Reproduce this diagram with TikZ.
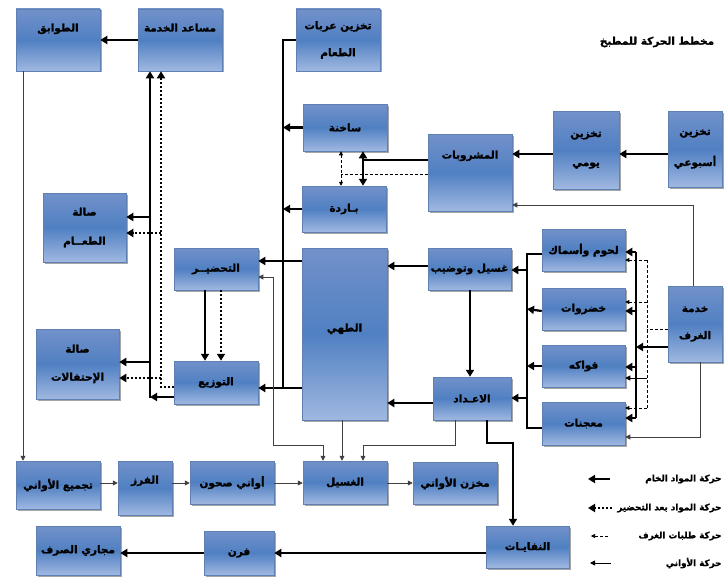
\documentclass[tikz,border=0pt]{standalone}
\usepackage{fontspec}
\usetikzlibrary{arrows.meta,shadows}
\newfontfamily\arabicfont[Script=Arabic, BoldFeatures={FakeBold=1.5}]{DejaVu Sans}
\TeXXeTstate=1
\newcommand{\rtltext}[1]{\beginR#1\endR}
\definecolor{boxtop}{HTML}{7291CA}
\definecolor{boxmid}{HTML}{5080C2}
\definecolor{boxbot}{HTML}{A0B8E1}
\definecolor{boxline}{HTML}{5F80B2}
\begin{document}
\begin{tikzpicture}[x=1pt, y=-1pt,
    font=\arabicfont\bfseries\fontsize{10.5}{12}\selectfont,
    box/.style={draw=boxline, line width=0.5pt, top color=boxtop, bottom color=boxbot, middle color=boxmid,
        drop shadow={shadow xshift=1.5pt, shadow yshift=-1.5pt, fill=black, opacity=0.35},
        align=center, inner sep=2pt},
    boxtop/.style={box, text height=8pt, text depth=#1},
    thickline/.style={line width=2.2pt},
    raw/.style={thickline, >={Triangle[length=7pt,width=8pt]}, ->},
    prep/.style={raw, dash pattern=on 2.2pt off 1.8pt},
    order/.style={line width=0.6pt, dash pattern=on 3pt off 2pt, >={Triangle[length=4pt,width=4pt]}, ->},
    dish/.style={line width=0.8pt, black!75, >={Triangle[length=5pt,width=5pt]}, ->},
    legtext/.style={anchor=east, font=\arabicfont\bfseries\fontsize{8.8}{11}\selectfont}
]
    \useasboundingbox (0,0) rectangle (728,578);
    % Title
    \node (title) at (657,42) {\rtltext{مخطط الحركة للمطبخ}};
    % Top row
    \node[boxtop=25pt, minimum width=84, minimum height=62] (tawabiq) at (58,40) {\rtltext{الطوابق}};
    \node[boxtop=25pt, minimum width=84, minimum height=62] (musaid) at (180,40) {\rtltext{مساعد الخدمة}};
    \node[box, minimum width=84, minimum height=62] (arabat) at (338,40) {\rtltext{تخزين عربات}\\[15pt]\rtltext{الطعام}};
    % Drinks
    \node[box, minimum width=84, minimum height=47] (sakhina) at (345,127.5) {\rtltext{ساخنة}};
    \node[box, minimum width=84, minimum height=46] (barida) at (344,209) {\rtltext{بـاردة}};
    \node[boxtop=36pt, minimum width=84, minimum height=77] (mashrubat) at (470,172.5) {\rtltext{المشروبات}};
    \node[box, minimum width=66, minimum height=78] (yawmi) at (586,150) {\rtltext{تخزين}\\[17pt]\rtltext{يومي}};
    \node[box, minimum width=54, minimum height=76] (usbui) at (695,149) {\rtltext{تخزين}\\[17pt]\rtltext{أسبوعي}};
    % Halls and service
    \node[box, minimum width=83, minimum height=69] (salattaam) at (84.5,227.5) {\rtltext{صالة}\\[17pt]\rtltext{الطعــام}};
    \node[box, minimum width=83, minimum height=70] (ihtifalat) at (77.5,364) {\rtltext{صالة}\\[16pt]\rtltext{الإحتفالات}};
    \node[box, minimum width=84, minimum height=42] (tahdir) at (216,269) {\rtltext{التحضيــر}};
    \node[box, minimum width=84, minimum height=43] (tawzi) at (216,382.5) {\rtltext{التوزيع}};
    \node[boxtop=13pt, minimum width=85, minimum height=172] (tahi) at (344.5,334) {\rtltext{الطهي}};
    % Raw materials
    \node[box, minimum width=83, minimum height=42] (ghasiltawdib) at (469.5,269) {\rtltext{غسيل وتوضيب}};
    \node[box, minimum width=78, minimum height=43] (eadad) at (472,398.5) {\rtltext{الاعـداد}};
    \node[box, minimum width=83, minimum height=42] (luhum) at (583.5,250) {\rtltext{لحوم وأسماك}};
    \node[box, minimum width=83, minimum height=42] (khudrawat) at (583.5,309) {\rtltext{خضروات}};
    \node[box, minimum width=83, minimum height=42] (fawakih) at (583.5,366) {\rtltext{فواكه}};
    \node[box, minimum width=83, minimum height=43] (muajjanat) at (583.5,423.5) {\rtltext{معجنات}};
    \node[box, minimum width=54, minimum height=76] (khidma) at (695,324) {\rtltext{خدمة}\\[15pt]\rtltext{الغرف}};
    % Dishes row
    \node[box, minimum width=84, minimum height=48] (tajmi) at (58,485) {\rtltext{تجميع الأواني}};
    \node[boxtop=17pt, minimum width=54, minimum height=54] (farz) at (145,488) {\rtltext{الفرز}};
    \node[box, minimum width=84, minimum height=43] (awani) at (232,482.5) {\rtltext{أواني صحون}};
    \node[box, minimum width=84, minimum height=43] (ghasil) at (345,482.5) {\rtltext{الغسيل}};
    \node[box, minimum width=84, minimum height=42] (makhzan) at (455,483) {\rtltext{مخزن الأواني}};
    % Waste row
    \node[box, minimum width=84, minimum height=49] (majari) at (78,550.5) {\rtltext{مجاري الصرف}};
    \node[box, minimum width=70, minimum height=44] (furn) at (239,553) {\rtltext{فرن}};
    \node[box, minimum width=83, minimum height=42] (nifayat) at (527.5,547) {\rtltext{النفايـات}};
    % Bus lines
    \coordinate (distbus) at (283,0);
    \coordinate (srvbus) at (150,0);
    \coordinate (prepbus) at (161,0);
    \coordinate (rawbus) at (527,0);
    \coordinate (roombus) at (636,0);
    \coordinate (orderbus) at (647,0);
    \coordinate (drinkhub) at (363,160);
    \coordinate (orderhub) at (341,174);
    % Drinks supply
    \draw[raw] (usbui.west |- 0,154) -- (yawmi.east |- 0,154);
    \draw[raw] (yawmi.west |- 0,154) -- (mashrubat.east |- 0,154);
    \draw[thickline] (mashrubat.west |- drinkhub) -- (drinkhub);
    \draw[raw, <->] (sakhina.south -| drinkhub) -- (barida.north -| drinkhub);
    \draw[order, -] (mashrubat.west |- orderhub) -- (orderhub);
    \draw[order, <->] (sakhina.south -| orderhub) -- (barida.north -| orderhub);
    % Distribution line
    \draw[thickline] (arabat.west) -| (distbus |- 0,388);
    \draw[raw] (sakhina.west) -- (sakhina.west -| distbus);
    \draw[raw] (barida.west) -- (barida.west -| distbus);
    \draw[raw] (tahi.west |- 0,261) -- (tahdir.east |- 0,261);
    \draw[raw] (tahi.west |- 0,388) -- (tawzi.east |- 0,388);
    \draw[raw] (tahdir.south -| 205,0) -- (tawzi.north -| 205,0);
    \draw[prep] (tahdir.south -| 221,0) -- (tawzi.north -| 221,0);
    % Service
    \draw[raw] (tawzi.west |- 0,397) -- (srvbus |- 0,397);
    \draw[raw] (srvbus |- 0,398) -- (musaid.south -| srvbus);
    \draw[raw] (srvbus |- 0,217) -- (salattaam.east |- 0,217);
    \draw[raw] (srvbus |- 0,362) -- (ihtifalat.east |- 0,362);
    \draw[prep] (tawzi.west |- 0,387) -| (musaid.south -| prepbus);
    \draw[prep] (prepbus |- 0,233) -- (salattaam.east |- 0,233);
    \draw[prep] (prepbus |- 0,378) -- (ihtifalat.east |- 0,378);
    \draw[raw] (musaid.west) -- (tawabiq.east);
    \draw[dish] (tawabiq.south -| 23,0) -- (tajmi.north -| 23,0);
    % Preparation
    \draw[raw] (ghasiltawdib.west |- 0,266) -- (tahi.east |- 0,266);
    \draw[raw] (ghasiltawdib.south -| 470,0) -- (eadad.north -| 470,0);
    \draw[raw] (eadad.west |- 0,403) -- (tahi.east |- 0,403);
    \draw[thickline] (luhum.west |- 0,254) -| (rawbus |- 0,428) -- (muajjanat.west |- 0,428);
    \draw[raw] (khudrawat.west |- 0,311) -- (khudrawat.west -| rawbus);
    \draw[raw] (fawakih.west |- 0,366) -- (fawakih.west -| rawbus);
    \draw[raw] (rawbus |- 0,270) -- (ghasiltawdib.east |- 0,270);
    \draw[raw] (rawbus |- 0,398) -- (eadad.east |- 0,398);
    % Room service
    \draw[thickline] (roombus |- 0,252) -- (roombus |- 0,418);
    \draw[raw] (khidma.west |- 0,347) -- (roombus |- 0,347);
    \foreach \nd/\yy in {luhum/252, khudrawat/311, fawakih/367, muajjanat/418}
        \draw[raw] (roombus |- 0,\yy) -- (\nd.east |- 0,\yy);
    \draw[order, -] (khidma.west |- 0,329) -- (orderbus |- 0,329);
    \draw[order, -] (orderbus |- 0,260) -- (orderbus |- 0,408);
    \foreach \nd/\yy in {luhum/260, khudrawat/302, muajjanat/408}
        \draw[order] (orderbus |- 0,\yy) -- (\nd.east |- 0,\yy);
    \draw[dish, black] (orderbus |- 0,378) -- (fawakih.east |- 0,378);
    \draw[dish] (khidma.north -| 693,0) |- (mashrubat.east |- 0,205);
    \draw[dish] (khidma.south -| 700,0) |- (muajjanat.east |- 0,437);
    % Dishes
    \draw[dish, <->] (tahdir.east |- 0,277) -| (273,445) -| (ghasil.north -| 323,0);
    \draw[dish] (tahi.south -| 342,0) -- (ghasil.north -| 342,0);
    \draw[dish] (eadad.south -| 455,0) |- (363,445) -- (ghasil.north -| 363,0);
    \draw[dish] (tajmi.east |- 0,483) -- (farz.west |- 0,483);
    \draw[dish] (farz.east |- 0,483) -- (awani.west |- 0,483);
    \draw[dish] (awani.east |- 0,483) -- (ghasil.west |- 0,483);
    \draw[dish] (ghasil.east |- 0,483) -- (makhzan.west |- 0,483);
    % Waste
    \draw[raw] (eadad.south -| 487,0) |- (513,443) -- (nifayat.north -| 513,0);
    \draw[raw] (nifayat.west |- 0,553) -- (furn.east |- 0,553);
    \draw[raw] (furn.west |- 0,553) -- (majari.east |- 0,553);
    % Legend
    \node[legtext] (legraw) at (725,479) {\rtltext{حركة المواد الخام}};
    \node[legtext] (legprep) at (725,508) {\rtltext{حركة المواد بعد التحضير}};
    \node[legtext] (legorder) at (725,536) {\rtltext{حركة طلبات الغرف}};
    \node[legtext] (legdish) at (725,563) {\rtltext{حركة الأواني}};
    \draw[raw] (legraw.west -| 610,0) -- ++(-22,0);
    \draw[prep] (legprep.west -| 612,0) -- ++(-24,0);
    \draw[order] (legorder.west -| 608,0) -- ++(-17,0);
    \draw[dish, black] (legdish.west -| 611,0) -- ++(-21,0);
\end{tikzpicture}
\end{document}
